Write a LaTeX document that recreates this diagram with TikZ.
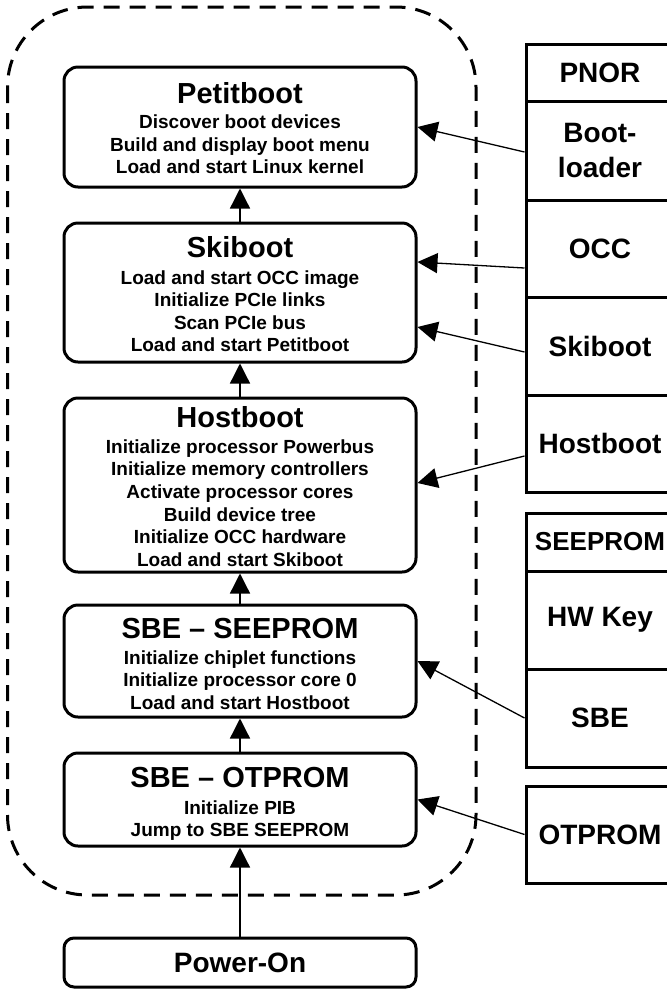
\documentclass[tikz,border=0pt]{standalone}
\usepackage{fontspec}
\setmainfont{Liberation Sans}
\usetikzlibrary{arrows.meta}
\begin{document}
\begin{tikzpicture}[x=1pt,y=-1pt,
  stage/.style={draw, line width=3pt, rounded corners=14pt, minimum width=352pt, inner sep=0pt},
  stagetitle/.style={anchor=base, inner sep=0pt, font=\bfseries\fontsize{29}{34}\selectfont},
  stagebody/.style={anchor=north, inner sep=0pt, align=center, font=\bfseries\fontsize{19}{22.6}\selectfont},
  part/.style={draw, line width=3pt, minimum width=148pt, inner sep=0pt, align=center, font=\bfseries\fontsize{28}{35}\selectfont},
  flow/.style={line width=1.3pt, -{Triangle[length=20pt,width=20pt]}},
  group/.style={draw, line width=3pt, dash pattern=on 16pt off 10pt, rounded corners=80pt}
]
\useasboundingbox (0,0) rectangle (667,989);

% firmware running on the host processor
\draw[group] (7.5,7) rectangle (476,895);

% boot stages
\node[stage, minimum height=120pt] (petitboot) at (240,127) {};
\node[stagetitle] (petitboot-t) at (240,103.5) {Petitboot};
\node[stagebody] (petitboot-b) at (240,112.5) {\strut Discover boot devices\\\strut Build and display boot menu\\\strut Load and start Linux kernel};

\node[stage, minimum height=139pt] (skiboot) at (240,292.5) {};
\node[stagetitle] (skiboot-t) at (240,257) {Skiboot};
\node[stagebody] (skiboot-b) at (240,268) {\strut Load and start OCC image\\\strut Initialize PCIe links\\\strut Scan PCIe bus\\\strut Load and start Petitboot};

\node[stage, minimum height=174pt] (hostboot) at (240,485) {};
\node[stagetitle] (hostboot-t) at (240,427) {Hostboot};
\node[stagebody] (hostboot-b) at (240,437.2) {\strut Initialize processor Powerbus\\\strut Initialize memory controllers\\\strut Activate processor cores\\\strut Build device tree\\\strut Initialize OCC hardware\\\strut Load and start Skiboot};

\node[stage, minimum height=112pt] (sbeseeprom) at (240,661) {};
\node[stagetitle] (sbeseeprom-t) at (240,638) {SBE – SEEPROM};
\node[stagebody] (sbeseeprom-b) at (240,648) {\strut Initialize chiplet functions\\\strut Initialize processor core 0\\\strut Load and start Hostboot};

\node[stage, minimum height=93pt] (sbeotprom) at (240,799.5) {};
\node[stagetitle] (sbeotprom-t) at (240,787) {SBE – OTPROM};
\node[stagebody] (sbeotprom-b) at (240,798) {\strut Initialize PIB\\\strut Jump to SBE SEEPROM};

\node[stage, rounded corners=10pt, minimum height=49pt, font=\bfseries\fontsize{28}{34}\selectfont] (poweron) at (240,962.5) {Power-On};

% PNOR flash
\node[part, minimum height=57pt] (pnor) at (600,72.5) {PNOR};
\node[part, minimum height=99pt] (bootloader) at (600,150.5) {Boot-\\loader};
\node[part, minimum height=97pt] (occ) at (600,248.5) {OCC};
\node[part, minimum height=98pt] (skibootimg) at (600,346) {Skiboot};
\node[part, minimum height=97pt] (hostbootimg) at (600,443.5) {Hostboot};

% SEEPROM
\node[part, minimum height=58pt, font=\bfseries\fontsize{26}{32}\selectfont] (seeprom) at (600,542) {SEEPROM};
\node[part, minimum height=98pt] (hwkey) at (600,620) {HW Key};
\node[part, minimum height=98pt] (sbe) at (600,718) {SBE};

% OTPROM
\node[part, minimum height=97pt] (otprom) at (600,834.5) {OTPROM};

% boot sequence
\draw[flow] (skiboot.north) -- (petitboot.south);
\draw[flow] (hostboot.north) -- (skiboot.south);
\draw[flow] (sbeseeprom.north) -- (hostboot.south);
\draw[flow] (sbeotprom.north) -- (sbeseeprom.south);
\draw[flow] (poweron.north) -- (sbeotprom.south);

% images loaded by each stage
\draw[flow] ([yshift=-1.5pt]bootloader.west) -- (petitboot.east);
\draw[flow] ([yshift=-19.5pt]occ.west) -- ([yshift=30.5pt]skiboot.east);
\draw[flow] ([yshift=-6pt]skibootimg.west) -- ([yshift=-34.5pt]skiboot.east);
\draw[flow] ([yshift=-12.5pt]hostbootimg.west) -- ([yshift=2pt]hostboot.east);
\draw[flow] (sbe.west) -- (sbeseeprom.east);
\draw[flow] (otprom.west) -- (sbeotprom.east);
\end{tikzpicture}
\end{document}
